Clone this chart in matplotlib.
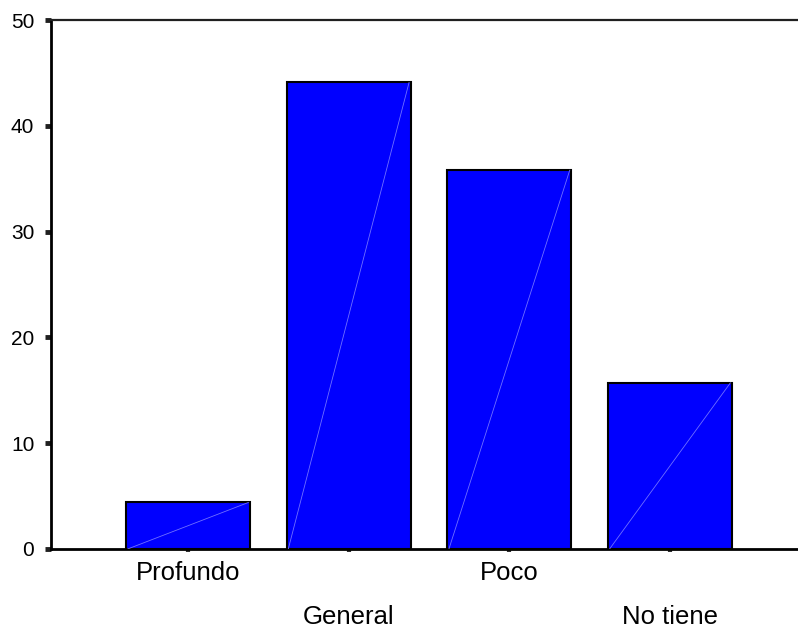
import matplotlib
matplotlib.use("Agg")
import matplotlib.pyplot as plt
import numpy as np

categories = ["Profundo", "General", "Poco", "No tiene"]
values = [4.4, 44.1, 35.8, 15.7]
yticks = [0, 10, 20, 30, 40, 50]

plt.rcParams['font.family'] = ['Liberation Sans', 'DejaVu Sans']

fig = plt.figure(figsize=(7.98, 6.29), dpi=100)
ax = fig.add_axes([51/798, 1 - 549/629, 1 - 51/798, (549 - 20)/629])

x = np.arange(len(categories))
width = 0.772
ax.bar(x, values, width=width, color='#0000FF', edgecolor='black', linewidth=1.5, zorder=2)
for xi, v in zip(x, values):
    ax.plot([xi - width/2 + 0.01, xi + width/2 - 0.01], [0, v], color='#7070ff', lw=0.6, zorder=3)

ax.set_xlim(-0.853, 3.797)
ax.set_ylim(0, 50)
ax.set_yticks(yticks)
ax.set_yticklabels([str(t) for t in yticks], fontsize=15)
ax.set_xticks(x)
ax.set_xticklabels(categories, fontsize=18.5)

ax.tick_params(axis='y', direction='out', length=4, width=3.5, color='#202020', pad=8)
ax.tick_params(axis='x', direction='out', length=2.5, width=3, color='#303030', pad=6)
for i, t in enumerate(ax.xaxis.get_major_ticks()):
    if i % 2 == 1:
        t.set_pad(37.5)

ax.spines['right'].set_visible(False)
ax.spines['left'].set_linewidth(2)
ax.spines['bottom'].set_linewidth(2)
ax.spines['top'].set_linewidth(1.6)
ax.spines['top'].set_color('#202020')

fig.savefig("out.png", dpi=100)
